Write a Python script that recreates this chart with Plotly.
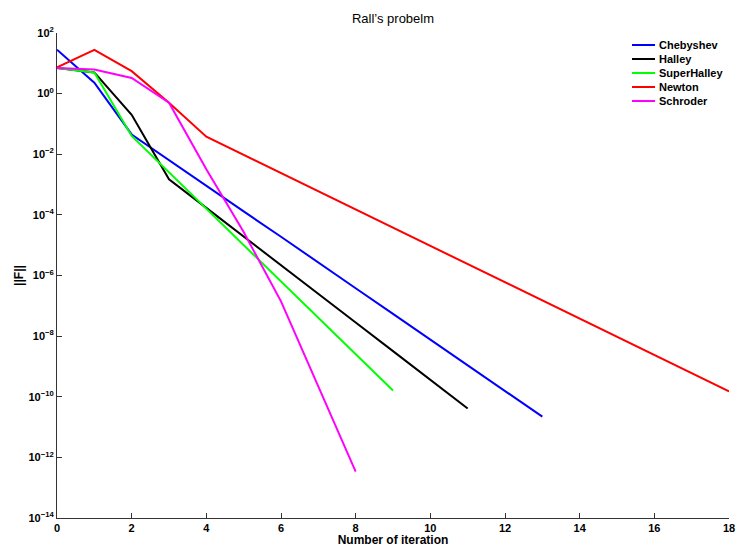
import plotly.graph_objects as go

cheb_x = list(range(0, 14))
cheb_y = [28, 2.3, 4.5e-2, 6.3e-3, 9.1e-4, 1.3e-4, 1.9e-5, 2.6e-6, 3.8e-7, 5.4e-8, 7.8e-9, 1.1e-9, 1.6e-10, 2.2e-11]

halley_x = list(range(0, 12))
halley_y = [7.0, 5.0, 0.2, 1.5e-3, 1.7e-4, 1.9e-5, 2.1e-6, 2.5e-7, 2.8e-8, 3.2e-9, 3.5e-10, 4.1e-11]

super_x = list(range(0, 10))
super_y = [7.0, 5.0, 4.0e-2, 2.5e-3, 1.6e-4, 1.0e-5, 6.3e-7, 4.0e-8, 2.5e-9, 1.6e-10]

newton_x = list(range(0, 19))
newton_y = [7.4, 28, 5.5, 0.5, 3.8e-2, 9.5e-3, 2.4e-3, 6.0e-4, 1.5e-4, 3.8e-5, 9.5e-6,
            2.4e-6, 6.0e-7, 1.5e-7, 3.8e-8, 9.5e-9, 2.4e-9, 6.0e-10, 1.5e-10]

schroder_x = list(range(0, 9))
schroder_y = [7.0, 6.2, 3.3, 0.5, 3.2e-3, 2.7e-5, 1.4e-7, 2.2e-10, 3.4e-13]

series_names = ["Chebyshev", "Halley", "SuperHalley", "Newton", "Schroder"]
series_x = [cheb_x, halley_x, super_x, newton_x, schroder_x]
series_y = [cheb_y, halley_y, super_y, newton_y, schroder_y]
series_colors = ["#0000FF", "#000000", "#00FF00", "#FF0000", "#FF00FF"]

x_ticks = list(range(0, 19, 2))
y_exps = list(range(-14, 3, 2))
y_tickvals = [10.0 ** e for e in y_exps]
y_ticktext = ["<b>10<sup>%s</sup></b>" % (str(e).replace("-", "\u2212")) for e in y_exps]

W, H = 737, 547
ML, MR, MT, MB = 57, 8, 33, 29

fig = go.Figure()
for name, xs, ys, col in zip(series_names, series_x, series_y, series_colors):
    fig.add_trace(go.Scatter(x=xs, y=ys, mode="lines", name=name,
                             line=dict(color=col, width=2), showlegend=False))

font_family = "Arial, Liberation Sans, Helvetica, sans-serif"

# manual legend (compact, MATLAB-like), positioned in paper coordinates
pw = W - ML - MR
ph = H - MT - MB
def px_x(p):
    return (p - ML) / pw
def px_y(p):
    return 1 - (p - MT) / ph

leg_top = 45
leg_step = 14
for i, (name, col) in enumerate(zip(series_names, series_colors)):
    yy = px_y(leg_top + i * leg_step)
    fig.add_shape(type="line", xref="paper", yref="paper",
                  x0=px_x(632), x1=px_x(655), y0=yy, y1=yy,
                  line=dict(color=col, width=2))
    fig.add_annotation(xref="paper", yref="paper", x=px_x(657), y=yy,
                       xanchor="left", yanchor="middle", showarrow=False,
                       text="<b>%s</b>" % name,
                       font=dict(size=11, family=font_family, color="black"))

fig.update_layout(
    width=W, height=H,
    margin=dict(l=ML, r=MR, t=MT, b=MB, autoexpand=False),
    paper_bgcolor="white", plot_bgcolor="white",
    font=dict(family=font_family, color="black"),
    title=dict(text="Rall\u2019s probelm", xref="paper", x=0.5, xanchor="center",
               y=0.967, yanchor="middle",
               font=dict(size=13, family=font_family, color="black")),
    showlegend=False,
    xaxis=dict(range=[0, 18], tickvals=x_ticks, ticktext=["<b>%d</b>" % t for t in x_ticks],
               ticks="inside", ticklen=5, tickcolor="#333", showline=True, linecolor="#333",
               linewidth=1, showgrid=False, zeroline=False, mirror=False, automargin=False,
               tickfont=dict(size=11, family=font_family),
               title=dict(text="<b>Number of iteration</b>", font=dict(size=12, family=font_family), standoff=0)),
    yaxis=dict(type="log", range=[-14, 2], tickvals=y_tickvals, ticktext=y_ticktext,
               ticks="inside", ticklen=5, tickcolor="#333", showline=True, linecolor="#333",
               linewidth=1, showgrid=False, zeroline=False, mirror=False, automargin=False,
               tickfont=dict(size=11, family=font_family),
               title=dict(text="<b>||F||</b>", font=dict(size=12, family=font_family), standoff=2)),
)

fig.write_html("out.html", config={"displayModeBar": False},
               post_script="document.body.style.margin='0';document.body.style.overflow='hidden';")
